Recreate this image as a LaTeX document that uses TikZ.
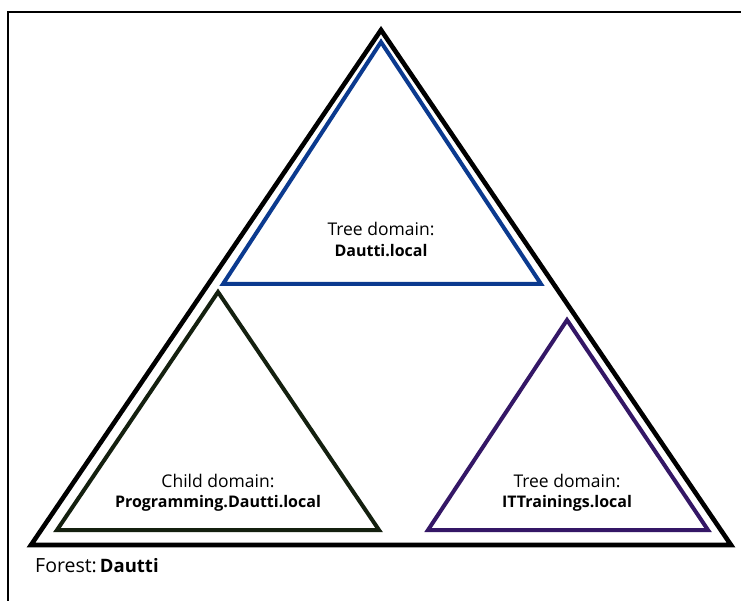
\documentclass[tikz,border=0pt]{standalone}
\usepackage{fontspec}
\setmainfont{Open Sans}
\begin{document}
\begin{tikzpicture}[x=1pt,y=-1pt,
  frameline/.style={line width=2.4pt,black},
  forestline/.style={line width=4.6pt,black,line join=miter},
  domainline/.style={line width=4pt,line join=miter},
  lbl/.style={font=\fontsize{17.5}{20}\selectfont,inner sep=0pt},
  lblb/.style={font=\fontsize{16}{20}\selectfont\bfseries,inner sep=0pt},
  forestlbl/.style={font=\fontsize{19.5}{22}\selectfont,inner sep=0pt}]
\definecolor{treeblue}{HTML}{0B3A8F}
\definecolor{childgreen}{HTML}{14200F}
\definecolor{treepurple}{HTML}{341766}
\useasboundingbox (0,0) rectangle (741,601);
\fill[white] (0,0) rectangle (741,601);
% outer frame (open on right and bottom)
\coordinate (fr) at (741,12);
\coordinate (fc) at (8,12);
\coordinate (fb) at (8,601);
\draw[frameline] (fb) -- (fc) -- (fr);
% forest
\coordinate (fA) at (381,30);
\coordinate (fL) at (31,545);
\coordinate (fR) at (731,545);
\draw[forestline] (fA) -- (fL) -- (fR) -- cycle;
% tree domain Dautti.local
\coordinate (tA) at (381,42);
\coordinate (tL) at (223,284);
\coordinate (tR) at (541,284);
\draw[domainline,treeblue] (tA) -- (tL) -- (tR) -- cycle;
% child domain
\coordinate (cA) at (218,292);
\coordinate (cL) at (57,530);
\coordinate (cR) at (379,530);
\draw[domainline,childgreen] (cA) -- (cL) -- (cR) -- cycle;
% tree domain ITTrainings.local
\coordinate (pA) at (567,320);
\coordinate (pL) at (428,530);
\coordinate (pR) at (708,530);
\draw[domainline,treepurple] (pA) -- (pL) -- (pR) -- cycle;
% labels
\node[lbl]  (t1) at (381,229) {Tree domain:};
\node[lblb] (t2) at (381,251) {Dautti.local};
\node[lbl]  (c1) at (218,481) {Child domain:};
\node[lblb] (c2) at (218,503) {Programming.Dautti.local};
\node[lbl]  (p1) at (567,481) {Tree domain:};
\node[lblb] (p2) at (567,503) {ITTrainings.local};
\node[forestlbl,anchor=west] (f1) at (35,566)
  {Forest:\hspace{3pt}{\fontsize{18.5}{22}\selectfont\bfseries Dautti}};
\end{tikzpicture}
\end{document}
